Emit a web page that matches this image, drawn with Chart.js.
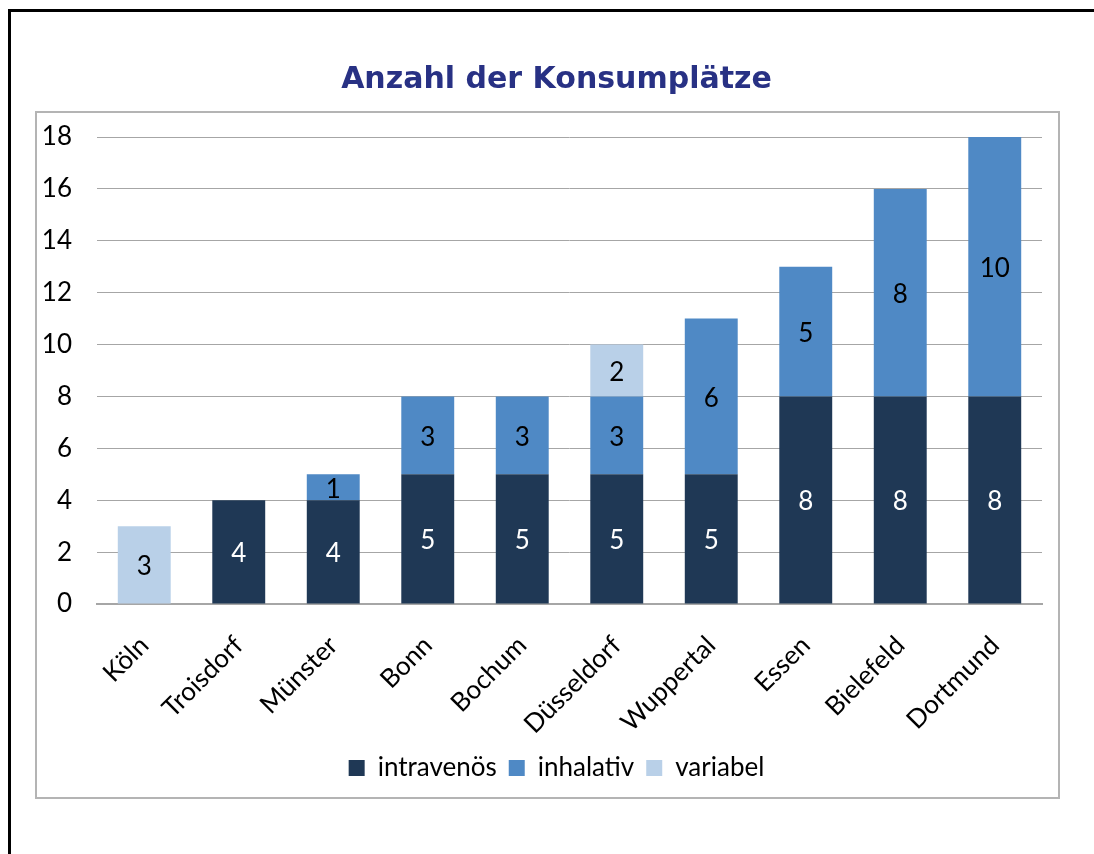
<!DOCTYPE html>
<html>
<head>
<meta charset="utf-8">
<title>Anzahl der Konsumplätze</title>
<script src="https://cdn.jsdelivr.net/npm/chart.js@4/dist/chart.umd.min.js"></script>
<style>
  html, body { margin: 0; padding: 0; background: #fff; }
  canvas { display: block; }
</style>
</head>
<body>
<canvas id="chart" width="1094" height="854"></canvas>
<script>
// Data
const cities = ["Köln", "Troisdorf", "Münster", "Bonn", "Bochum", "Düsseldorf", "Wuppertal", "Essen", "Bielefeld", "Dortmund"];
const intravenous = [0, 4, 4, 5, 5, 5, 5, 8, 8, 8];
const inhalative = [0, 0, 1, 3, 3, 3, 6, 5, 8, 10];
const variable = [3, 0, 0, 0, 0, 2, 0, 0, 0, 0];
const seriesNames = ["intravenös", "inhalativ", "variabel"];
const yMin = 0, yMax = 18, yStep = 2;

Chart.defaults.font.family = "Lato, 'Open Sans', sans-serif";
Chart.defaults.font.size = 26;
Chart.defaults.color = "#000";

// Page frame: black lines on top/left and the grey chart box
const framePlugin = {
  id: "frame",
  beforeDraw(chart) {
    const c = chart.ctx;
    c.save();
    c.fillStyle = "#fff";
    c.fillRect(0, 0, chart.width, chart.height);
    c.strokeStyle = "#000";
    c.lineWidth = 3;
    c.beginPath();
    c.moveTo(9.5, chart.height);
    c.lineTo(9.5, 10.5);
    c.lineTo(chart.width, 10.5);
    c.stroke();
    c.strokeStyle = "#b4b4b4";
    c.lineWidth = 2;
    c.strokeRect(36, 112, 1023, 686);
    c.restore();
  }
};

// Value labels in the middle of each segment
const valueLabels = {
  id: "valueLabels",
  afterDatasetsDraw(chart) {
    const c = chart.ctx;
    c.save();
    c.font = "26px Lato, 'Open Sans', sans-serif";
    c.textAlign = "center";
    c.textBaseline = "middle";
    chart.data.datasets.forEach((ds, i) => {
      const meta = chart.getDatasetMeta(i);
      meta.data.forEach((bar, j) => {
        const v = ds.data[j];
        if (!v) return;
        c.fillStyle = i === 0 ? "#fff" : "#000";
        c.fillText(String(v), bar.x, (bar.y + bar.base) / 2 + 2);
      });
    });
    c.restore();
  }
};

new Chart(document.getElementById("chart"), {
  type: "bar",
  data: {
    labels: cities,
    datasets: [
      { label: seriesNames[0], data: intravenous, backgroundColor: "#1f3855" },
      { label: seriesNames[1], data: inhalative, backgroundColor: "#4f89c5" },
      { label: seriesNames[2], data: variable, backgroundColor: "#b9d0e8" }
    ]
  },
  options: {
    responsive: false,
    animation: false,
    layout: { padding: { top: 62, left: 40, right: 21, bottom: 63 } },
    datasets: {
      bar: { categoryPercentage: 1, barPercentage: 0.56 }
    },
    plugins: {
      title: {
        display: true,
        text: "Anzahl der Konsumplätze",
        color: "#283184",
        font: { family: "'DejaVu Sans', Verdana, sans-serif", size: 30, weight: "bold" },
        padding: { top: 0, bottom: 39 }
      },
      legend: {
        position: "bottom",
        labels: { boxWidth: 16, boxHeight: 16, padding: 12 }
      },
      tooltip: { enabled: false }
    },
    scales: {
      x: {
        stacked: true,
        grid: { display: false, drawTicks: false },
        border: { display: true, color: "#a6a6a6", width: 2 },
        ticks: { minRotation: 45, maxRotation: 45, padding: 26 },
        afterFit(scale) { scale.height = 139; }
      },
      y: {
        stacked: true,
        min: yMin,
        max: yMax,
        grid: { color: "#a6a6a6", lineWidth: 1, drawTicks: false },
        border: { display: false },
        ticks: { stepSize: yStep, padding: 25 },
        afterFit(scale) { scale.width = 57; }
      },
      // empty right-hand axis, only keeps the plot's right edge in place
      spacer: {
        type: "linear",
        position: "right",
        grid: { display: false, drawTicks: false },
        border: { display: false },
        ticks: { display: false },
        afterFit(scale) { scale.width = 31; }
      }
    }
  },
  plugins: [framePlugin, valueLabels]
});
</script>
</body>
</html>
